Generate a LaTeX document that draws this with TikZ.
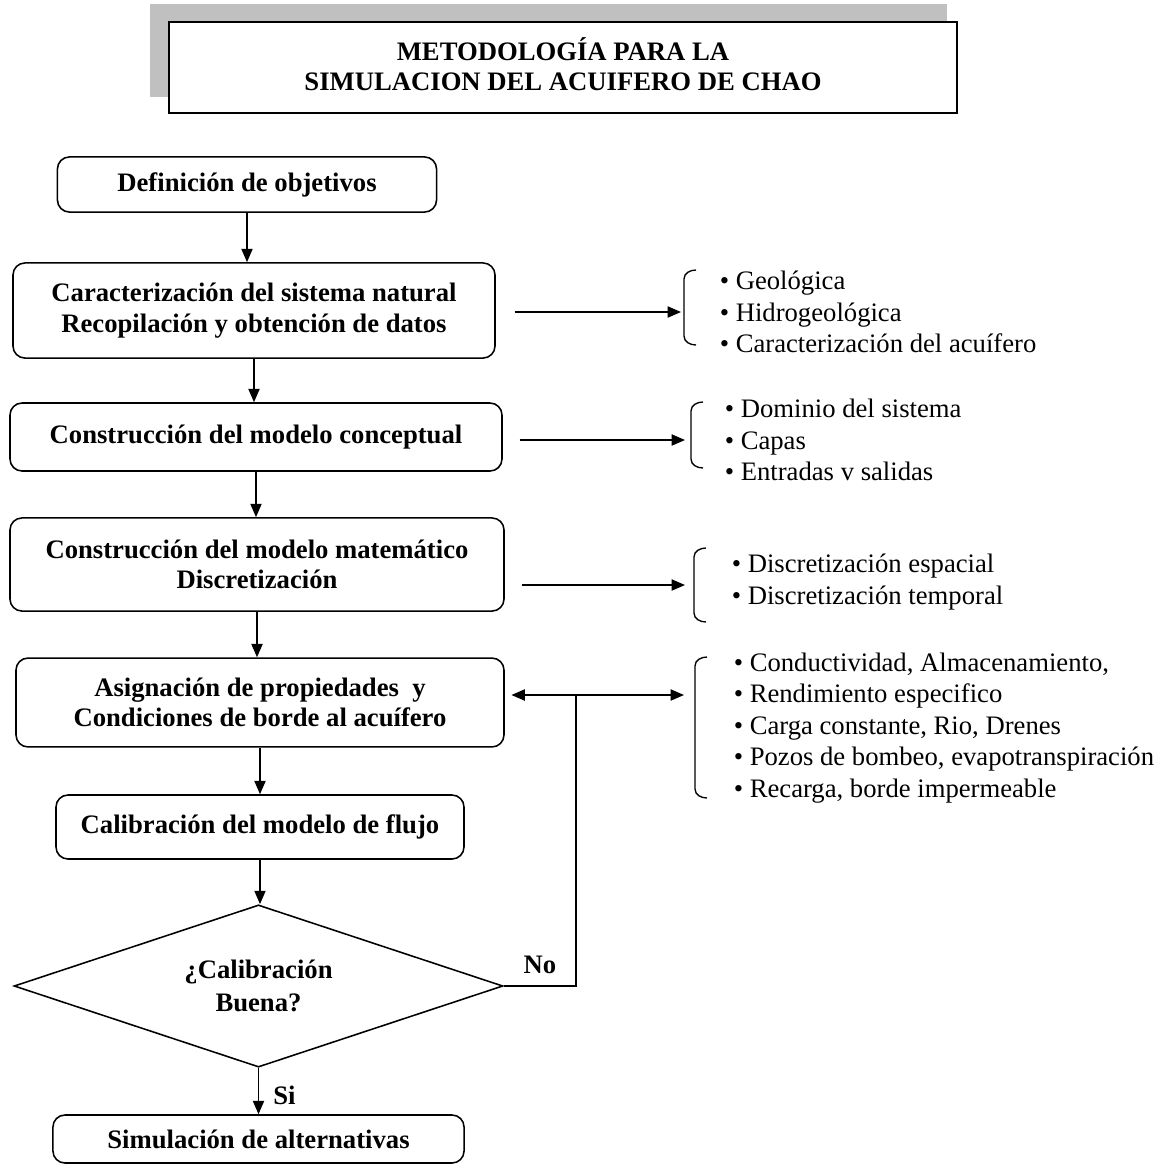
\documentclass[tikz,border=0pt]{standalone}
\usepackage{fontspec}
\setmainfont{Liberation Serif}
\usetikzlibrary{shapes.geometric,arrows.meta}
\definecolor{shadegray}{HTML}{C0C0C0}

\begin{document}
\begin{tikzpicture}[x=0.45pt, y=-0.45pt, line width=0.7pt,
  font=\fontsize{12}{14.2}\selectfont,
  proc/.style={draw, rounded corners=5.4pt, align=center, inner sep=2pt,
               font=\fontsize{12}{13.6}\selectfont\bfseries},
  decis/.style={draw, diamond, aspect=3, inner sep=0pt, align=center,
                minimum width=220pt, minimum height=73pt,
                font=\fontsize{12}{14.6}\selectfont\bfseries},
  lst/.style={anchor=west, align=left, inner sep=0pt},
  lbl/.style={font=\fontsize{12}{14}\selectfont\bfseries},
  arr/.style={-{Triangle[length=6pt,width=5pt]}},
]
\useasboundingbox (0,0) rectangle (1164,1165);
% title with its shadow
\fill[shadegray] (150,4) rectangle (947,97);
\node[draw, fill=white, line width=1pt, minimum width=354.6pt, minimum height=41pt,
      align=center, font=\fontsize{12}{13.5}\selectfont\bfseries] (title) at (563,67.5)
      {\raisebox{3pt}{METODOLOGÍA PARA LA}\\\raisebox{3pt}{SIMULACION DEL ACUIFERO DE CHAO}};

% main column
\node[proc, minimum width=170.6pt, minimum height=24.8pt] (obj)  at (247,184.5) {Definición de objetivos};
\node[proc, minimum width=216.9pt, minimum height=42.8pt] (carac) at (254,310.5)
      {Caracterización del sistema natural\\Recopilación y obtención de datos};
\node[proc, minimum width=221.4pt, minimum height=30.6pt] (conc) at (256,437) {Construcción del modelo conceptual};
\node[proc, minimum width=222.3pt, minimum height=41.9pt] (mate) at (257,564.5)
      {Construcción del modelo matemático\\Discretización};
\node[proc, minimum width=219.6pt, minimum height=40pt] (asig) at (260,702.5)
      {Asignación de propiedades \ y\\Condiciones de borde al acuífero};
\node[proc, minimum width=183.6pt, minimum height=28.8pt] (calib) at (260,827) {Calibración del modelo de flujo};
\node[decis] (buena) at (258.5,986) {\raisebox{-2pt}{¿Calibración}\\\raisebox{-2pt}{Buena?}};
\node[proc, minimum width=185pt, minimum height=21.6pt] (simul) at (258.5,1139) {Simulación de alternativas};

\draw[arr] (obj.south) -- (obj.south |- carac.north);
\draw[arr] (carac.south) -- (carac.south |- conc.north);
\draw[arr] (conc.south) -- (conc.south |- mate.north);
\draw[arr] (mate.south) -- (mate.south |- asig.north);
\draw[arr] (asig.south) -- (asig.south |- calib.north);
\draw[arr] (calib.south) -- (calib.south |- buena.north);
\draw[arr] (buena.south) -- node[lbl, right=3pt, pos=0.6] {Si} (buena.south |- simul.north);

% lists on the right
\node[lst] (geo)  at (719,312) {\textbullet{} Geológica\\\textbullet{} Hidrogeológica\\\textbullet{} Caracterización del acuífero};
\node[lst] (dom)  at (724,440) {\textbullet{} Dominio del sistema\\\textbullet{} Capas\\\textbullet{} Entradas v salidas};
\node[lst] (disc) at (731,582) {\textbullet{} Discretización espacial\\\textbullet{} Discretización temporal};
\node[lst] (cond) at (733,728) {\textbullet{} Conductividad, Almacenamiento,\\\textbullet{} Rendimiento especifico\\\textbullet{} Carga constante, Rio, Drenes\\\textbullet{} Pozos de bombeo, evapotranspiración\\\textbullet{} Recarga, borde impermeable};

% brackets
\foreach \x/\t/\b in {684/270/345, 691/402/468, 694/548/622, 695/657/798}
  \draw[line width=0.6pt] (\x+12,\t) to[out=180,in=90] (\x,\t+9) -- (\x,\b-9) to[out=-90,in=180] (\x+12,\b);

\coordinate (br1) at (681,312);
\coordinate (br2) at (685,440);
\coordinate (br3) at (685,585);
\coordinate (br4) at (684,695);
\coordinate (jn)  at (576,695);

\draw[arr] ([xshift=8.5pt]carac.east |- br1) -- (br1);
\draw[arr] ([xshift=7.6pt]conc.east |- br2) -- (br2);
\draw[arr] ([xshift=7.6pt]mate.east |- br3) -- (br3);
\draw[arr] (jn) -- (br4);
\draw[arr] (jn) -- ([xshift=3pt]asig.east |- jn);
\draw (buena.east) -| node[lbl, pos=0.25, above=2pt] {No} (jn);
\end{tikzpicture}
\end{document}
